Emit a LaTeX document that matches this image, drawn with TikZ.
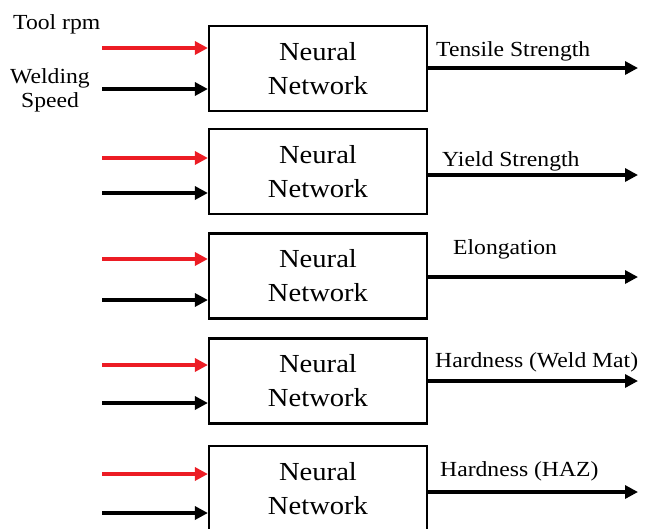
\documentclass[tikz,border=0pt]{standalone}
\usepackage{fontspec}
\setmainfont{Liberation Serif}[FakeStretch=1.1]
\usetikzlibrary{arrows.meta}

\definecolor{rpmred}{RGB}{236,28,36}

\tikzset{
  nnbox/.style={draw=black, line width=2.2pt, minimum width=218pt, minimum height=85pt,
    inner sep=0pt, align=center, font=\fontsize{26}{34}\selectfont},
  inarrow/.style={line width=3.2pt, -{Triangle[length=13pt,width=13pt]}},
  rpmarrow/.style={inarrow, draw=rpmred, color=rpmred},
  speedarrow/.style={inarrow, draw=black},
  outarrow/.style={line width=3.2pt, -{Triangle[length=13pt,width=13pt]}},
  outlabel/.style={anchor=base west, inner sep=0pt, font=\fontsize{21.5}{24}\selectfont},
  inlabel/.style={inner sep=0pt, align=center, font=\fontsize{21.5}{24}\selectfont}
}

\begin{document}
\begin{tikzpicture}[x=1pt, y=-1pt]
  \useasboundingbox (0,0) rectangle (645,528);
  \clip (0,0) rectangle (645,528);

  % network blocks
  \node[nnbox] (nn1) at (318,68.5)  {Neural\\Network};
  \node[nnbox] (nn2) at (318,171.5) {Neural\\Network};
  \node[nnbox] (nn3) at (318,276)   {Neural\\Network};
  \node[nnbox] (nn4) at (318,381)   {Neural\\Network};
  \node[nnbox] (nn5) at (318,488.5) {Neural\\Network};

  % input labels
  \node[inlabel, anchor=base west] (rpm) at (13,29) {Tool rpm};
  \node[inlabel, anchor=north] (speed) at (50,68.3) {Welding\\Speed};

  % input arrows: tool rpm (red) and welding speed (black)
  \coordinate (r1) at (102,48);  \coordinate (b1) at (102,89);
  \coordinate (r2) at (102,158); \coordinate (b2) at (102,193);
  \coordinate (r3) at (102,259); \coordinate (b3) at (102,300);
  \coordinate (r4) at (102,365); \coordinate (b4) at (102,403);
  \coordinate (r5) at (102,474); \coordinate (b5) at (102,513);
  \foreach \i in {1,...,5}{
    \draw[rpmarrow]   (r\i) -- (r\i -| nn\i.west);
    \draw[speedarrow] (b\i) -- (b\i -| nn\i.west);
  }

  % outputs
  \coordinate (o1) at (638,68);
  \coordinate (o2) at (638,175);
  \coordinate (o3) at (638,277);
  \coordinate (o4) at (638,381);
  \coordinate (o5) at (638,492);
  \foreach \i in {1,...,5}{
    \draw[outarrow] (o\i -| nn\i.east) -- (o\i);
  }

  \node[outlabel] (l1) at (436,56)  {Tensile Strength};
  \node[outlabel] (l2) at (442,166) {Yield Strength};
  \node[outlabel] (l3) at (453,254) {Elongation};
  \node[outlabel] (l4) at (435,367) {Hardness (Weld Mat)};
  \node[outlabel] (l5) at (440,476) {Hardness (HAZ)};
\end{tikzpicture}
\end{document}
